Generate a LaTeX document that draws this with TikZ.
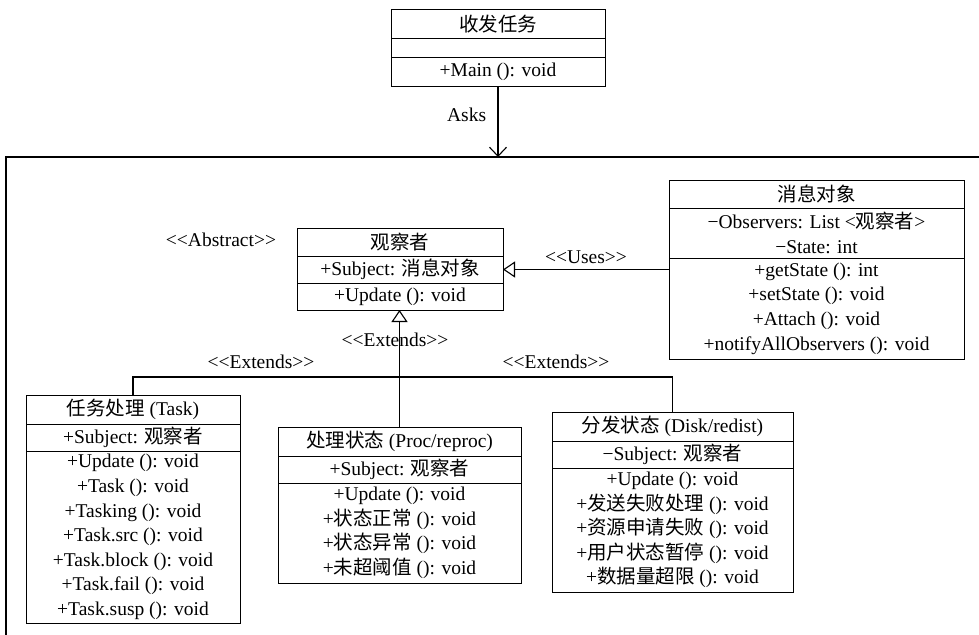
\documentclass[tikz,border=0pt]{standalone}
\usepackage{fontspec}
\setmainfont{Liberation Serif}
\newfontfamily\cjk{Noto Sans CJK SC}
\usepackage{tikz}
\usetikzlibrary{
	arrows.meta,
	positioning
}
\newcommand{\zh}[1]{{\cjk #1}}
\newcommand{\estereo}[1]{\textless\kern0pt\textless#1\textgreater\kern0pt\textgreater}
\tikzset{
	parte/.style={
		draw,
		line width=1pt,
		outer sep=0pt,
		inner sep=2pt,
		align=center,
		minimum width=#1
	},
	etiqueta/.style={
		inner sep=2pt
	},
	marco/.style={
		line width=1.2pt
	},
	linea/.style={
		line width=1.1pt
	},
	pide/.style={
		-{Straight Barb[length=9pt,width=17pt]},
		line width=1.1pt
	},
	hereda/.style={
		-{Triangle[open,length=12pt,width=16pt]},
		line width=1.1pt
	}
}

\begin{document}
\begin{tikzpicture}[x=1pt,y=-1pt,font=\fontsize{19.5}{24.6}\selectfont]
		\useasboundingbox (0,0) rectangle (979,634);
		% marco del subsistema
		\coordinate (marcoSup) at (6,157);
		\draw[marco] (6,660) -- (marcoSup) -- (990,157);
		% clase principal
		\node[parte=214pt, minimum height=29pt, anchor=north] (mainH) at (498,10) {\zh{收发任务}};
		\node[parte=214pt, minimum height=19pt, below=0pt of mainH] (mainA) {};
		\node[parte=214pt, minimum height=28pt, below=0pt of mainA] (mainM) {+Main (): void};
		\draw[pide] (mainM.south) -- (mainM.south |- marcoSup) node[pos=0.41, left=8pt] {Asks};
		% observador
		\node[parte=206pt, minimum height=28pt, anchor=north] (obsH) at (400,228) {\zh{观察者}};
		\node[parte=206pt, minimum height=27pt, below=0pt of obsH] (obsA) {+Subject: \zh{消息对象}};
		\node[parte=206pt, minimum height=27pt, below=0pt of obsA] (obsM) {+Update (): void};
		\node[etiqueta] (lblAbs) at (221,240) {\estereo{Abstract}};
		% objeto de mensaje
		\node[parte=295pt, minimum height=28pt, anchor=north] (msgH) at (816.5,180) {\zh{消息对象}};
		\node[parte=295pt, minimum height=50pt, below=0pt of msgH] (msgA) {−Observers: List \textless\zh{观察者}\textgreater\\−State: int};
		\node[parte=295pt, minimum height=101pt, below=0pt of msgA] (msgM) {+getState (): int\\+setState (): void\\+Attach (): void\\+notifyAllObservers (): void};
		\draw[hereda] (msgM.west |- obsA.east) -- (obsA.east) node[midway, above=2pt] {\estereo{Uses}};
		% tareas
		\node[parte=214pt, minimum height=29pt, anchor=north] (taskH) at (133,395) {\zh{任务处理} (Task)};
		\node[parte=214pt, minimum height=27pt, below=0pt of taskH] (taskA) {+Subject: \zh{观察者}};
		\node[parte=214pt, minimum height=172pt, below=0pt of taskA] (taskM) {+Update (): void\\+Task (): void\\+Tasking (): void\\+Task.src (): void\\+Task.block (): void\\+Task.fail (): void\\+Task.susp (): void};
		% estado de proceso
		\node[parte=243pt, minimum height=29pt, anchor=north] (procH) at (399.5,427) {\zh{处理状态} (Proc/reproc)};
		\node[parte=243pt, minimum height=27pt, below=0pt of procH] (procA) {+Subject: \zh{观察者}};
		\node[parte=243pt, minimum height=100pt, below=0pt of procA] (procM) {+Update (): void\\+\zh{状态正常} (): void\\+\zh{状态异常} (): void\\+\zh{未超阈值} (): void};
		% estado de distribucion
		\node[parte=241pt, minimum height=29pt, anchor=north] (distH) at (672.5,412) {\zh{分发状态} (Disk/redist)};
		\node[parte=241pt, minimum height=27pt, below=0pt of distH] (distA) {−Subject: \zh{观察者}};
		\node[parte=241pt, minimum height=124pt, below=0pt of distA] (distM) {+Update (): void\\+\zh{发送失败处理} (): void\\+\zh{资源申请失败} (): void\\+\zh{用户状态暂停} (): void\\+\zh{数据量超限} (): void};
		% herencia
		\coordinate (bus) at (400,377);
		\draw[hereda] (procH.north) -- (procH.north |- obsM.south);
		\draw[linea] (taskH.north) |- (bus) -| (distH.north);
		\node[etiqueta] (lblExtM) at (395,340) {\estereo{Extends}};
		\node[etiqueta] (lblExtL) at (261,362) {\estereo{Extends}};
		\node[etiqueta] (lblExtR) at (556,362) {\estereo{Extends}};
	\end{tikzpicture}
\end{document}
